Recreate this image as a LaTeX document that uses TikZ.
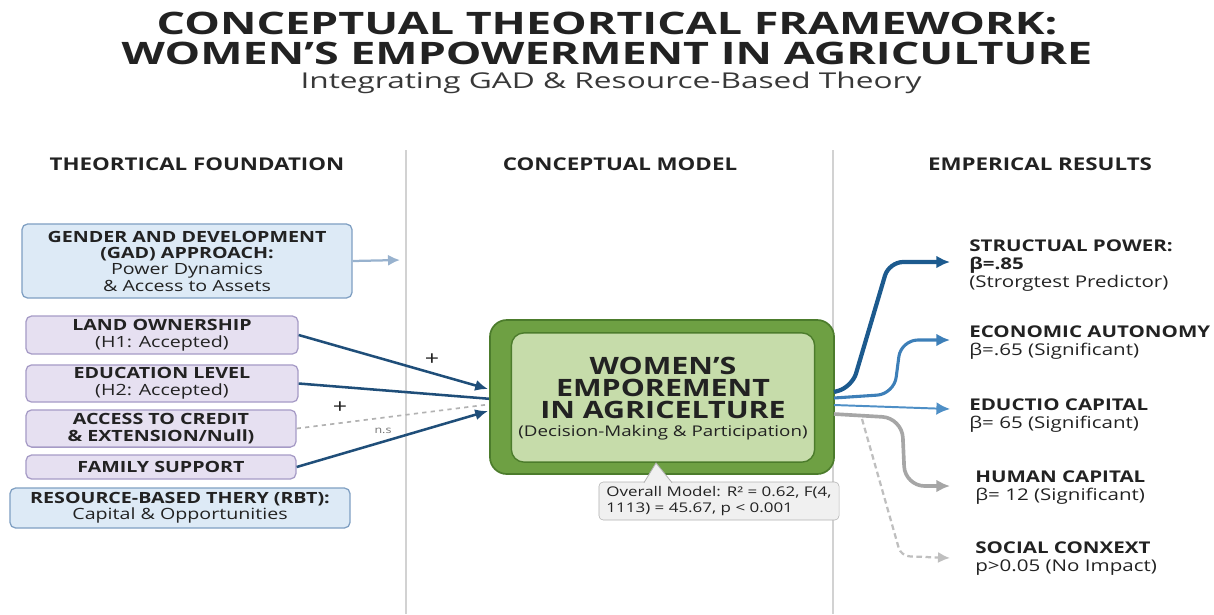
\documentclass[tikz,border=0pt]{standalone}
\usepackage{fontspec}
\setmainfont{Open Sans}[FakeStretch=1.27]
\newfontfamily\titlefont{Open Sans}[FakeStretch=1.45]
\usepackage{tikz}
\usetikzlibrary{arrows.meta,positioning,calc}

\definecolor{ink}{HTML}{222222}
\definecolor{gadfill}{HTML}{DDEAF6}
\definecolor{gadline}{HTML}{7F9FC2}
\definecolor{varfill}{HTML}{E6E0F1}
\definecolor{varline}{HTML}{A69BC6}
\definecolor{navy}{HTML}{1F4E79}
\definecolor{outgreen}{HTML}{6EA043}
\definecolor{outline}{HTML}{4C7C2C}
\definecolor{ingreen}{HTML}{C6DCAA}
\definecolor{strongblue}{HTML}{1C5A8E}
\definecolor{midblue}{HTML}{3D7FB8}
\definecolor{lightblue}{HTML}{4E8FC6}
\definecolor{divider}{HTML}{D2D2D2}

\begin{document}
\begin{tikzpicture}[x=0.025cm, y=-0.025cm,
    colhead/.style={font=\bfseries\fontsize{12.5}{14}\selectfont, text=ink},
    theobox/.style={draw=gadline, fill=gadfill, line width=0.9pt, rounded corners=4pt,
      align=center, inner sep=0pt, text=ink, font=\fontsize{11}{11.6}\selectfont},
    varbox/.style={draw=varline, fill=varfill, line width=0.9pt, rounded corners=4pt,
      align=center, inner sep=0pt, text=ink, font=\fontsize{11}{11.8}\selectfont},
    result/.style={anchor=north west, align=left, inner sep=0pt, text=ink,
      font=\fontsize{11.5}{12.8}\selectfont},
    infl/.style={navy, line width=1.8pt, -{Latex[length=3.2mm,width=2.8mm]}},
    outarrow/.style={line width=#1, -{Latex[length=3.4mm,width=3.2mm]}}
  ]
  \useasboundingbox (0,0) rectangle (1214,614);

  % Titel
  \node[text=ink, align=center, font=\titlefont\bfseries\fontsize{22}{21.5}\selectfont] (title) at (607,38.5)
    {CONCEPTUAL THEORTICAL FRAMEWORK:\\WOMEN’S EMPOWERMENT IN AGRICULTURE};
  \node[text=ink!90, font=\titlefont\fontsize{15.5}{18}\selectfont] (subtitle) at (611,83)
    {Integrating GAD \& Resource-Based Theory};

  % Spalten
  \draw[divider, line width=0.8pt] (406,150) -- (406,614);
  \draw[divider, line width=0.8pt] (833,150) -- (833,614);
  \node[colhead] (hleft) at (197,164) {THEORTICAL FOUNDATION};
  \node[colhead] (hmid) at (620,164) {CONCEPTUAL MODEL};
  \node[colhead] (hright) at (1040,164) {EMPERICAL RESULTS};

  % Theorie
  \node[theobox, minimum width=8.25cm, minimum height=1.85cm] (gad) at (187,261)
    {\textbf{GENDER AND DEVELOPMENT}\\\textbf{(GAD) APPROACH:}\\Power Dynamics\\\& Access to Assets};
  \node[theobox, minimum width=8.5cm, minimum height=1.0cm] (rbt) at (180,508)
    {\textbf{RESOURCE-BASED THERY (RBT):}\\Capital \& Opportunities};

  % Variablen
  \node[varbox, minimum width=6.8cm, minimum height=0.95cm] (land) at (162,335)
    {\textbf{LAND OWNERSHIP}\\(H1: Accepted)};
  \node[varbox, minimum width=6.8cm, minimum height=0.93cm] (edu) at (162,383.5)
    {\textbf{EDUCATION LEVEL}\\(H2: Accepted)};
  \node[varbox, minimum width=6.75cm, minimum height=0.93cm] (credit) at (161,428.5)
    {\textbf{ACCESS TO CREDIT}\\\textbf{\& EXTENSION/Null)}};
  \node[varbox, minimum width=6.75cm, minimum height=0.6cm] (family) at (161,467)
    {\textbf{FAMILY SUPPORT}};

  % Pfeile links
  \coordinate (gadend) at (400,260);
  \coordinate (inA) at (488,389);
  \coordinate (inB) at (492,399);
  \coordinate (inC) at (492,404);
  \coordinate (inD) at (488,411);
  \draw[gadline!80, line width=1.6pt, -{Latex[length=3mm,width=2.8mm]}] (gad.east) -- (gadend);
  \draw[infl] (land.east) -- (inA);
  \draw[navy, line width=1.8pt] (edu.east) -- (inB);
  \draw[black!30, line width=1.2pt, dashed] (credit.east) -- (inC);
  \draw[infl] (family.east) -- (inD);
  \node[text=ink, font=\fontsize{14}{14}\selectfont] (plusA) at (432,360) {+};
  \node[text=ink, font=\fontsize{14}{14}\selectfont] (plusB) at (340,408) {+};
  \node[text=black!55, font=\fontsize{7}{8}\selectfont] (ns) at (383,431) {n.s};

  % Zentrum
  \node[draw=outline, fill=outgreen, line width=1.2pt, rounded corners=12pt,
    minimum width=8.6cm, minimum height=3.85cm] (wepbox) at (662,397) {};
  \node[draw=outline, fill=ingreen, line width=1pt, rounded corners=9pt,
    minimum width=7.58cm, minimum height=3.23cm] (wep) at (663,397.5) {};
  \node[align=center, text=ink, font=\bfseries\fontsize{17}{15.6}\selectfont] (weptitle) at (663,388)
    {WOMEN’S\\EMPOREMENT\\IN AGRICELTURE};
  \node[text=ink, font=\fontsize{10.5}{12}\selectfont] (wepsub) at (663,433)
    {(Decision-Making \& Participation)};

  % Modell-Kasten
  \node[draw=black!30, fill=black!6, rounded corners=3pt, align=left, text=ink,
    minimum width=6.0cm, minimum height=0.95cm, inner sep=2pt,
    font=\fontsize{9.5}{11.4}\selectfont] (model) at (719,501)
    {Overall Model: R² = 0.62, F(4,\\1113) = 45.67, p < 0.001};
  \fill[black!6] (644,483) -- (656,463) -- (672,483) -- cycle;
  \draw[black!30, line width=0.6pt] (644,482.6) -- (656,463) -- (672,482.6);

  % Ergebnisse
  \node[result] (res1) at (969,239.5)
    {\textbf{STRUCTUAL POWER:}\\\textbf{β=.85}\\(Strorgtest Predictor)};
  \node[result] (res2) at (969,325.5)
    {\textbf{ECONOMIC AUTONOMY}\\β=.65 (Significant)};
  \node[result] (res3) at (969,398.5)
    {\textbf{EDUCTIO CAPITAL}\\β= 65 (Significant)};
  \node[result] (res4) at (975,470.5)
    {\textbf{HUMAN CAPITAL}\\β= 12 (Significant)};
  \node[result] (res5) at (975,541.5)
    {\textbf{SOCIAL CONXEXT}\\p>0.05 (No Impact)};

  % Pfeile rechts
  \coordinate (s1) at (834,392);
  \coordinate (s2) at (834,398);
  \coordinate (s3) at (834,405);
  \coordinate (s4) at (834,414);
  \coordinate (s5) at (862,419);
  \coordinate (t1) at (950,262);
  \coordinate (t2) at (950,340);
  \coordinate (t3) at (950,409);
  \coordinate (t4) at (950,486);
  \coordinate (t5) at (950,558);
  \draw[black!25, line width=1.6pt, dash pattern=on 4pt off 2.5pt, -{Latex[length=3mm,width=2.8mm]},
    rounded corners=6] (s5) -- (901,556) -- (t5);
  \draw[black!35, outarrow=2.6pt, rounded corners=14] (s4) -- (902,418) -- (905,486) -- (t4);
  \draw[lightblue, outarrow=1.4pt] (s3) -- (t3);
  \draw[midblue, outarrow=2.2pt, rounded corners=12] (s2) -- (894,394) -- (901,340) -- (t2);
  \draw[strongblue, outarrow=3pt, rounded corners=10] (s1) -- (852,387) -- (889,262) -- (t1);
\end{tikzpicture}
\end{document}
